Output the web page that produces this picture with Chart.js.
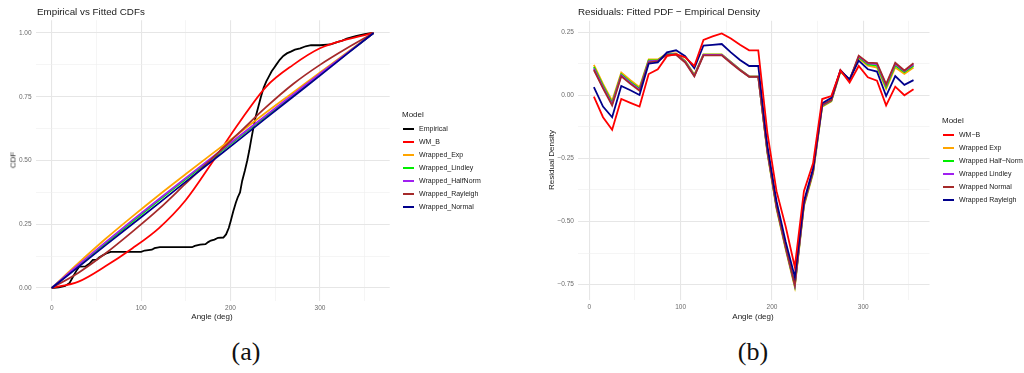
<!DOCTYPE html>
<html>
<head>
<meta charset="utf-8">
<script src="https://cdn.jsdelivr.net/npm/chart.js@4"></script>
<style>
  html, body { margin: 0; padding: 0; background: #fff; }
  body { width: 1024px; height: 373px; position: relative; overflow: hidden; font-family: "Liberation Sans", Arial, sans-serif; }
  canvas { position: absolute; top: 0; }
  .t { position: absolute; white-space: nowrap; color: #1a1a1a; }
  .title { font-size: 9.8px; }
  .axt { font-size: 8px; }
  .rot { transform: translate(-50%, -50%) rotate(-90deg); }
  .lg { position: absolute; font-size: 7px; color: #1a1a1a; }
  .lg .hd { font-size: 8px; margin-bottom: 3px; }
  .lg .it { position: relative; height: 13px; line-height: 13px; }
  .lg .sw { position: absolute; top: 5.5px; width: 11px; height: 2px; }
  .cap { position: absolute; font-family: "Liberation Serif", "DejaVu Serif", serif; font-size: 26px; color: #111; transform: translateX(-50%); }
</style>
</head>
<body>
<canvas id="cdf" width="512" height="330" style="left:0"></canvas>
<canvas id="res" width="512" height="330" style="left:512px"></canvas>

<div class="t title" style="left:37px; top:6px;">Empirical vs Fitted CDFs</div>
<div class="t axt rot" style="left:13px; top:160px;">CDF</div>
<div class="t axt" style="left:212px; top:312px; transform:translateX(-50%);">Angle (deg)</div>

<div class="t title" style="left:578px; top:6px;">Residuals: Fitted PDF − Empirical Density</div>
<div class="t axt rot" style="left:551px; top:160px;">Residual Density</div>
<div class="t axt" style="left:753px; top:312px; transform:translateX(-50%);">Angle (deg)</div>

<div id="lgA" class="lg" style="left:402px; top:110px;"></div>
<div id="lgB" class="lg" style="left:942px; top:116px;"></div>

<div class="cap" style="left:246px; top:337px;">(a)</div>
<div class="cap" style="left:753px; top:337px;">(b)</div>

<script>
// ---- (a) CDFs ----
const cdfModels = ["Empirical", "WM_B", "Wrapped_Exp", "Wrapped_Lindley", "Wrapped_HalfNorm", "Wrapped_Rayleigh", "Wrapped_Normal"];
const cdfColors = ["#000000", "#FF0000", "#FFA500", "#00EE00", "#A020F0", "#A52A2A", "#00008B"];

// empirical distribution function
const empAngle = [0, 8, 15, 20, 24, 28, 31, 38, 42, 46, 50, 53, 57, 62, 66, 85, 100, 104, 112, 115, 121, 140, 157, 160, 166, 172, 175, 178, 182, 186, 192, 195, 198, 200, 203, 206, 208, 210.6, 213, 216, 218.7, 221, 223, 225.4, 228, 231, 234, 237, 240, 243, 246, 249, 251, 255, 259, 263, 268, 272, 278, 284, 290, 300, 312, 316, 320, 325, 330, 335, 340, 345, 350, 355, 360];
const empCdf   = [0, 0.003, 0.008, 0.02, 0.045, 0.07, 0.084, 0.085, 0.095, 0.11, 0.11, 0.12, 0.128, 0.137, 0.142, 0.142, 0.142, 0.147, 0.15, 0.156, 0.16, 0.16, 0.16, 0.165, 0.17, 0.172, 0.18, 0.186, 0.19, 0.197, 0.198, 0.21, 0.235, 0.26, 0.3, 0.335, 0.355, 0.375, 0.42, 0.46, 0.5, 0.54, 0.58, 0.625, 0.67, 0.71, 0.75, 0.785, 0.81, 0.83, 0.85, 0.865, 0.875, 0.895, 0.91, 0.92, 0.928, 0.935, 0.94, 0.948, 0.952, 0.952, 0.955, 0.96, 0.965, 0.97, 0.978, 0.983, 0.988, 0.992, 0.996, 0.998, 1.0];

// fitted CDFs on a 30-degree grid
const fitAngle = [0, 30, 60, 90, 120, 150, 180, 210, 240, 270, 300, 330, 360];
const wmB       = [0, 0.025, 0.085, 0.155, 0.235, 0.345, 0.495, 0.65, 0.79, 0.875, 0.94, 0.975, 1];
const wExp      = [0, 0.098, 0.192, 0.28, 0.365, 0.447, 0.528, 0.608, 0.689, 0.767, 0.845, 0.923, 1];
const wLindley  = [0, 0.088, 0.174, 0.26, 0.344, 0.427, 0.51, 0.592, 0.674, 0.756, 0.838, 0.919, 1];
const wHalfNorm = [0, 0.091, 0.179, 0.265, 0.349, 0.432, 0.514, 0.596, 0.678, 0.759, 0.84, 0.92, 1];
const wRayleigh = [0, 0.06, 0.135, 0.22, 0.31, 0.41, 0.51, 0.61, 0.71, 0.8, 0.875, 0.94, 1];
const wNormal   = [0, 0.083, 0.167, 0.25, 0.333, 0.417, 0.5, 0.583, 0.667, 0.75, 0.833, 0.917, 1];

// ---- (b) residuals ----
const resModels = ["WM−B", "Wrapped Exp", "Wrapped Half−Norm", "Wrapped Lindley", "Wrapped Normal", "Wrapped Rayleigh"];
const resColors = ["#FF0000", "#FFA500", "#00EE00", "#A020F0", "#A52A2A", "#00008B"];
const binMid = [5, 15, 25, 35, 45, 55, 65, 75, 85, 95, 105, 115, 125, 135, 145, 155, 165, 175, 185, 195, 205, 215, 225, 235, 245, 255, 265, 275, 285, 295, 305, 315, 325, 335, 345, 355];
const rWMB      = [-0.005, -0.087, -0.137, -0.015, -0.03, -0.045, 0.084, 0.103, 0.155, 0.163, 0.15, 0.116, 0.219, 0.233, 0.245, 0.225, 0.2, 0.178, 0.178, -0.15, -0.38, -0.52, -0.68, -0.38, -0.27, -0.015, -0.003, 0.098, 0.05, 0.116, 0.071, 0.058, -0.04, 0.034, 0.0, 0.024];
const rExp      = [0.12, 0.045, -0.022, 0.09, 0.06, 0.032, 0.142, 0.142, 0.166, 0.166, 0.136, 0.082, 0.162, 0.162, 0.162, 0.132, 0.102, 0.075, 0.075, -0.23, -0.45, -0.61, -0.76, -0.44, -0.31, -0.045, -0.024, 0.093, 0.062, 0.145, 0.117, 0.11, 0.025, 0.11, 0.085, 0.11];
const rHalfNorm = [0.112, 0.038, -0.03, 0.083, 0.053, 0.026, 0.138, 0.139, 0.164, 0.164, 0.134, 0.079, 0.161, 0.161, 0.161, 0.131, 0.101, 0.074, 0.074, -0.225, -0.445, -0.605, -0.755, -0.435, -0.305, -0.042, -0.022, 0.096, 0.061, 0.15, 0.122, 0.117, 0.033, 0.118, 0.092, 0.117];
const rLindley  = [0.106, 0.032, -0.035, 0.079, 0.049, 0.022, 0.134, 0.137, 0.162, 0.162, 0.132, 0.077, 0.16, 0.16, 0.16, 0.13, 0.1, 0.074, 0.074, -0.222, -0.442, -0.602, -0.752, -0.432, -0.302, -0.04, -0.02, 0.098, 0.06, 0.154, 0.126, 0.123, 0.04, 0.124, 0.096, 0.122];
const rNormal   = [0.1, 0.027, -0.04, 0.075, 0.045, 0.018, 0.13, 0.135, 0.16, 0.16, 0.13, 0.075, 0.158, 0.158, 0.158, 0.128, 0.099, 0.073, 0.073, -0.22, -0.44, -0.6, -0.75, -0.43, -0.3, -0.038, -0.019, 0.1, 0.06, 0.157, 0.129, 0.127, 0.044, 0.129, 0.098, 0.127];
const rRayleigh = [0.032, -0.045, -0.087, 0.037, 0.02, 0.001, 0.125, 0.13, 0.17, 0.178, 0.155, 0.107, 0.197, 0.2, 0.203, 0.17, 0.14, 0.116, 0.116, -0.2, -0.42, -0.58, -0.72, -0.42, -0.29, -0.032, -0.01, 0.098, 0.063, 0.137, 0.103, 0.094, -0.003, 0.076, 0.041, 0.06];

const FONT = "Liberation Sans, Arial, sans-serif";
const tickColor = "#6b6b6b";
const gridMajor = "#e6e6e6";
const gridMinor = "#efefef";

function xy(xs, ys) { return xs.map((x, i) => ({ x: x, y: ys[i] })); }

function gridOpts(isMajor) {
  return {
    drawTicks: false,
    color: (c) => isMajor(c.tick.value) ? gridMajor : gridMinor,
    lineWidth: (c) => isMajor(c.tick.value) ? 1.1 : 0.6
  };
}
const near = (v, step) => Math.abs(v / step - Math.round(v / step)) < 1e-6;

function makeScales(o) {
  return {
    x: {
      type: "linear", min: o.xmin, max: o.xmax,
      border: { display: false },
      afterBuildTicks: (s) => { s.ticks = o.xticks.map(v => ({ value: v })); },
      afterFit: (s) => { s.height = o.xh; },
      ticks: { padding: 4, color: tickColor, font: { family: FONT, size: 6.5 }, maxRotation: 0,
               callback: (v) => near(v, 100) ? String(v) : "" },
      grid: gridOpts(v => near(v, 100))
    },
    y: {
      type: "linear", min: o.ymin, max: o.ymax,
      border: { display: false },
      afterBuildTicks: (s) => { s.ticks = o.yticks.map(v => ({ value: v })); },
      afterFit: (s) => { s.width = o.yw; },
      ticks: { padding: 4, color: tickColor, font: { family: FONT, size: 6.5 },
               callback: (v) => near(v, 0.25) ? (v < 0 ? "−" : "") + Math.abs(v).toFixed(2) : "" },
      grid: gridOpts(v => near(v, 0.25))
    }
  };
}

function range(a, b, s) { const r = []; for (let v = a; v <= b + 1e-9; v += s) r.push(Math.round(v * 1000) / 1000); return r; }

const lineDs = (label, data, color, order) => ({
  label, data, borderColor: color, backgroundColor: color, borderWidth: 1.8,
  pointRadius: 0, fill: false, tension: 0, order
});

// Chart (a)
const fitSeries = [wmB, wExp, wLindley, wHalfNorm, wRayleigh, wNormal];
const cdfDatasets = [lineDs(cdfModels[0], xy(empAngle, empCdf), cdfColors[0], 10)];
fitSeries.forEach((s, i) => {
  const d = lineDs(cdfModels[i + 1], xy(fitAngle, s), cdfColors[i + 1], 9 - i);
  d.cubicInterpolationMode = "monotone";
  cdfDatasets.push(d);
});

new Chart(document.getElementById("cdf"), {
  type: "line",
  data: { datasets: cdfDatasets },
  options: {
    responsive: false, animation: false, devicePixelRatio: 1,
    layout: { padding: { left: 0, right: 122.3, top: 20.25, bottom: 9.25 } },
    plugins: { legend: { display: false }, tooltip: { enabled: false } },
    scales: makeScales({ xmin: -18, xmax: 378, xticks: range(0, 350, 50), xh: 20,
                         ymin: -0.05, ymax: 1.05, yticks: range(0, 1, 0.125), yw: 35.6 })
  }
});

// Chart (b)
const resSeries = [rWMB, rExp, rHalfNorm, rLindley, rNormal, rRayleigh];
const resDatasets = resSeries.map((s, i) => lineDs(resModels[i], xy(binMid, s), resColors[i], 9 - i));
// the WM−B curve sits above the others in the dip
resDatasets[0].order = 2;
new Chart(document.getElementById("res"), {
  type: "line",
  data: { datasets: resDatasets },
  options: {
    responsive: false, animation: false, devicePixelRatio: 1,
    layout: { padding: { left: 0, right: 94.5, top: 20.8, bottom: 10.3 } },
    plugins: { legend: { display: false }, tooltip: { enabled: false } },
    scales: makeScales({ xmin: -12.5, xmax: 372.5, xticks: range(0, 350, 50), xh: 20,
                         ymin: -0.81, ymax: 0.295, yticks: range(-0.75, 0.25, 0.125), yw: 65.9 })
  }
});

// legends
function legend(el, names, colors) {
  let h = '<div class="hd">Model</div>';
  names.forEach((n, i) => {
    h += '<div class="it"><span class="sw" style="left:1px;background:' + colors[i] + '"></span><span style="margin-left:17px">' + n + '</span></div>';
  });
  el.innerHTML = h;
}
legend(document.getElementById("lgA"), cdfModels, cdfColors);
legend(document.getElementById("lgB"), resModels, resColors);
</script>
</body>
</html>
